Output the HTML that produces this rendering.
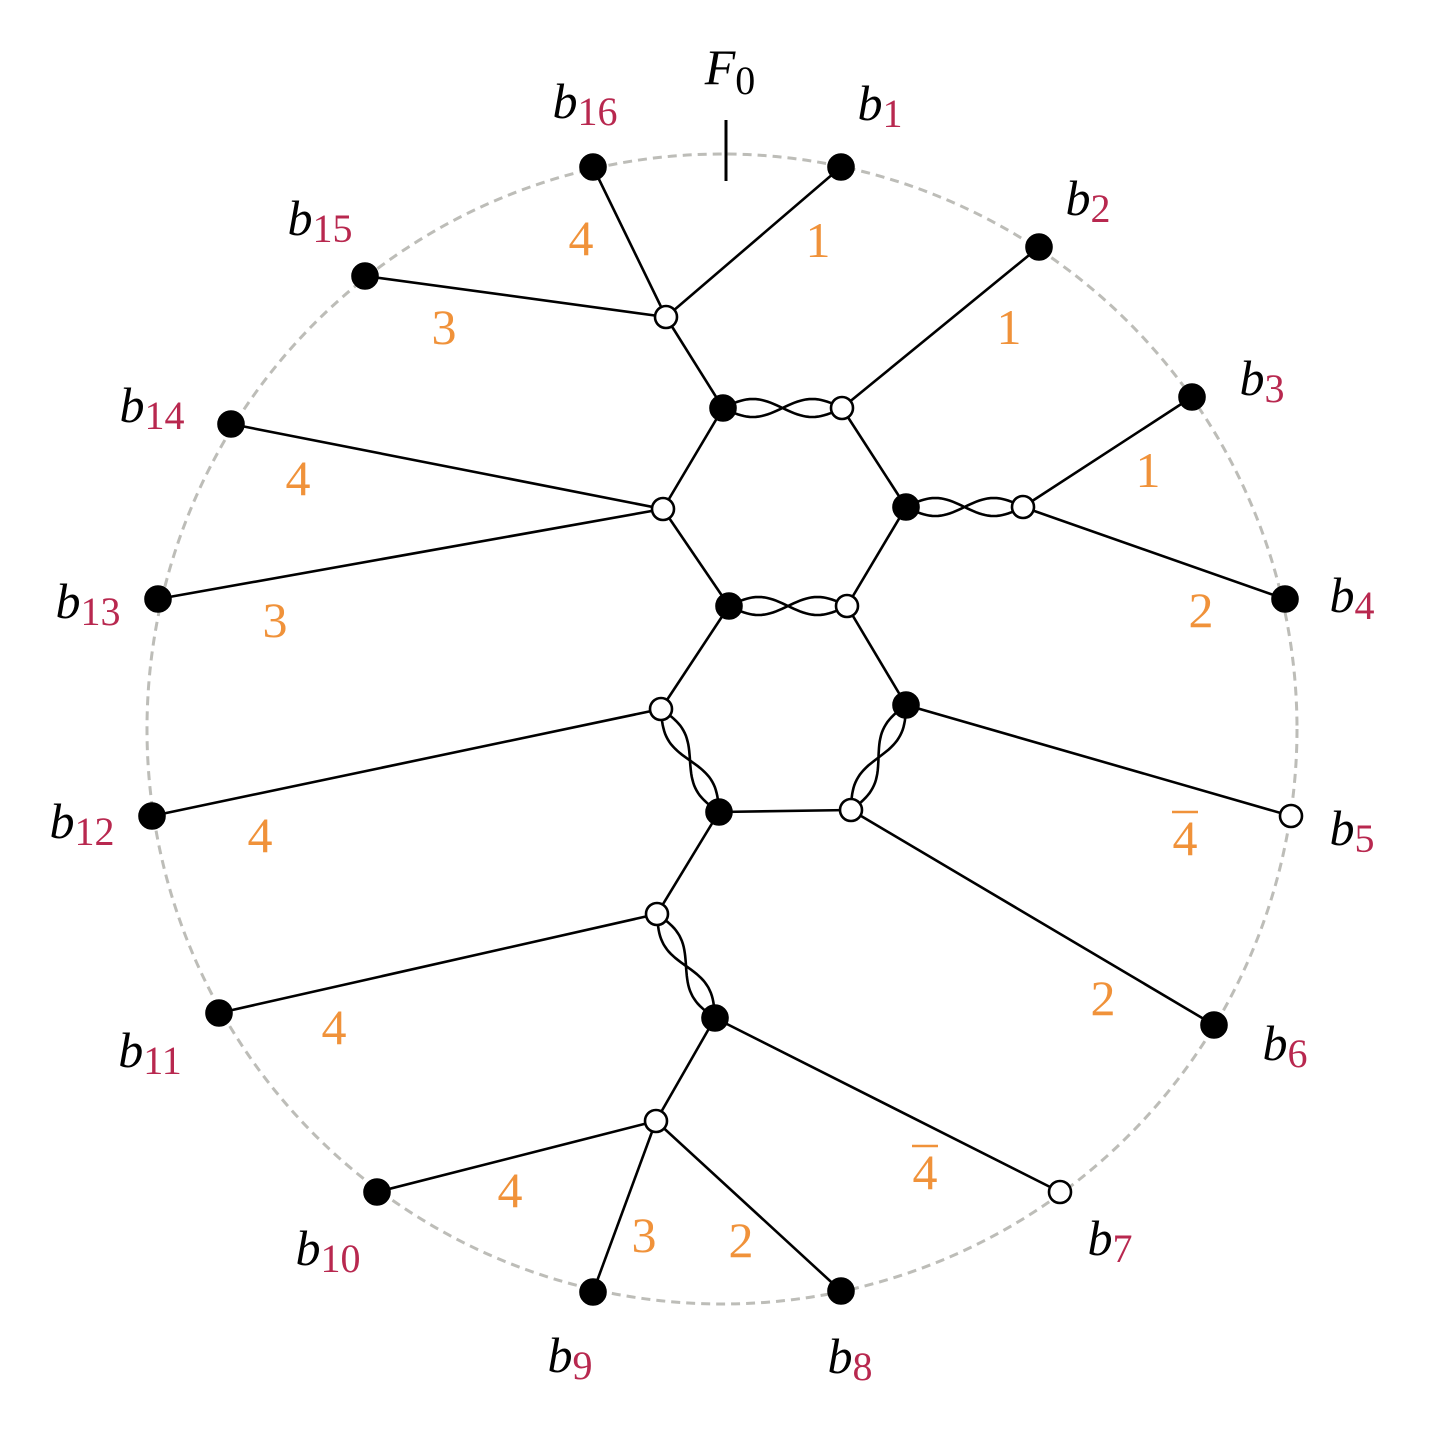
<!DOCTYPE html>
<html><head><meta charset="utf-8"><style>
html,body{margin:0;padding:0;background:#fff;}
svg{display:block;}
.bl{font-family:"Liberation Serif",serif;font-style:italic;font-size:50px;fill:#000;}
.sub{font-family:"Liberation Serif",serif;font-style:normal;font-size:40px;fill:#b8284f;}
.or{font-family:"Liberation Serif",serif;font-size:50px;fill:#f0923a;}
</style></head><body>
<svg id="g" width="1456" height="1438" viewBox="0 0 1456 1438" xmlns="http://www.w3.org/2000/svg">
<circle cx="722" cy="729" r="575" fill="none" stroke="#bdbdb8" stroke-width="3" stroke-dasharray="9,6"/>
<line x1="726" y1="120" x2="726" y2="181" stroke="#000" stroke-width="3"/>
<text x="730" y="84" text-anchor="middle"><tspan class="bl">F</tspan><tspan class="sub" style="fill:#000" dy="10">0</tspan></text>
</svg>
<script>
const nodeIds=["b16","b1","b2","b3","b4","b5","b6","b7","b8","b9","b10","b11","b12","b13","b14","b15","w1","k1","w2","k2","w3","w4","k3","w5","k4","w6","k5","w7","w8","k6","w9"];
const nodeX=[593,841,1039,1192,1285,1291,1214,1060,841,593,377,219,152,158,231,365,666,723,842,906,1023,663,729,847,906,661,719,851,657,715,656];
const nodeY=[167,167,247,397,599,816,1025,1192,1291,1292,1192,1013,816,599,424,276,317,408,408,507,507,509,606,606,705,709,812,810,914,1018,1121];
const nodeWhite=["b5","b7","w1","w2","w3","w4","w5","w6","w7","w8","w9"];
const edges=[["b16","w1"],["b1","w1"],["b15","w1"],["w1","k1"],["w2","b2"],["w2","k2"],["w3","b3"],["w3","b4"],["k1","w4"],["w4","b14"],["w4","b13"],["w4","k3"],["k2","w5"],["w5","k4"],["k4","b5"],["k3","w6"],["w6","b12"],["k5","w7"],["w7","b6"],["k5","w8"],["w8","b11"],["k6","b7"],["k6","w9"],["w9","b10"],["w9","b9"],["w9","b8"]];
const wavyEdges=[["k1","w2"],["k2","w3"],["k3","w5"],["w6","k5"],["w7","k4"],["w8","k6"]];
const bLabelSub=["16","1","2","3","4","5","6","7","8","9","10","11","12","13","14","15"];
const bLabelX=[585,880,1088,1262,1352,1352,1285,1110,850,570,328,150,82,88,152,320];
const bLabelY=[103,105,200,380,597,830,1045,1240,1358,1357,1250,1052,823,603,407,220];
const weightText=["4","1","3","1","4","1","3","2","4̄","4","2","4","4̄","4","3","2"];
const weightX=[581,818,444,1009,298,1148,275,1201,1185,260,1103,334,925,510,644,741];
const weightY=[238,240,327,327,478,470,620,610,838,835,998,1027,1172,1190,1235,1240];
const NS="http://www.w3.org/2000/svg";
const svg=document.getElementById("g");
function pos(id){const i=nodeIds.indexOf(id);return [nodeX[i],nodeY[i]];}
function mk(t,a){const e=document.createElementNS(NS,t);for(const k in a)e.setAttribute(k,a[k]);svg.appendChild(e);return e;}
edges.forEach(([a,b])=>{const p=pos(a),q=pos(b);
 const e=mk("line",{x1:p[0],y1:p[1],x2:q[0],y2:q[1],stroke:"#000","stroke-width":2.6});
 
 });
wavyEdges.forEach(([a,b])=>{const p=pos(a),q=pos(b);const dx=q[0]-p[0],dy=q[1]-p[1],L=Math.hypot(dx,dy),nx=-dy/L,ny=dx/L;
 [1,-1].forEach(s=>{let d="";for(let i=0;i<=40;i++){const t=i/40,o=s*9*Math.sin(2*Math.PI*t);d+=(i?"L":"M")+(p[0]+dx*t+nx*o).toFixed(1)+" "+(p[1]+dy*t+ny*o).toFixed(1);}
  const e=mk("path",{d:d,fill:"none",stroke:"#000","stroke-width":2.6});
  
  });});
nodeIds.forEach((id,i)=>{const w=nodeWhite.includes(id);
 const e=mk("circle",{cx:nodeX[i],cy:nodeY[i],r:w?11:12.5,fill:w?"#fff":"#000",stroke:"#000","stroke-width":2.6});
 
 });
bLabelSub.forEach((s,i)=>{const t=mk("text",{x:bLabelX[i],y:bLabelY[i]+15,"text-anchor":"middle"});
 t.innerHTML='<tspan class="bl">b</tspan><tspan class="sub" dy="7">'+s+'</tspan>';
 
 });
weightText.forEach((w,i)=>{const bar=w.length>1;
 const t=mk("text",{x:weightX[i],y:weightY[i]+17,"text-anchor":"middle",class:"or"});
 t.textContent=bar?w[0]:w;
 
 
 if(bar){const l=mk("line",{x1:weightX[i]-13,y1:weightY[i]-26,x2:weightX[i]+13,y2:weightY[i]-26,stroke:"#f0923a","stroke-width":2.5});
  
  }});
</script>
</body></html>
